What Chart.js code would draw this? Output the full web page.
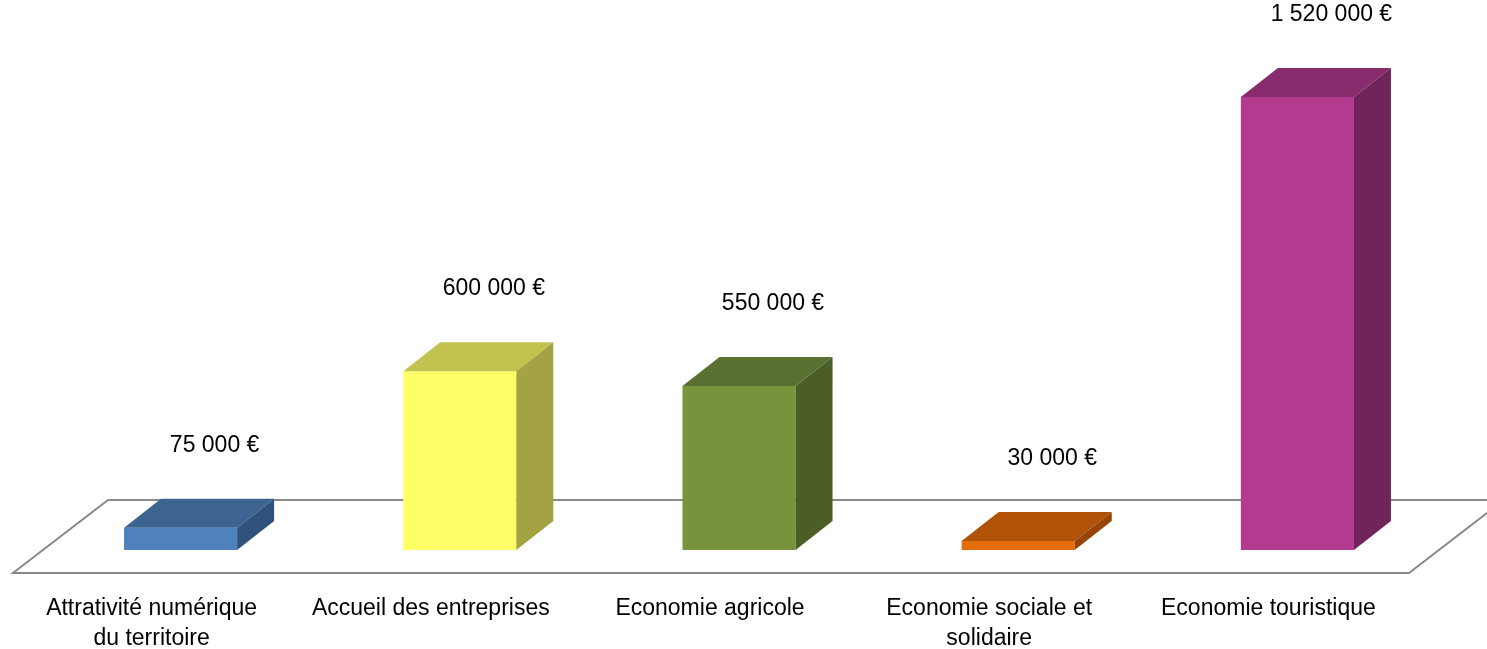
<!DOCTYPE html>
<html>
<head>
<meta charset="utf-8">
<script src="https://cdn.jsdelivr.net/npm/chart.js@4/dist/chart.umd.min.js"></script>
<style>
  body { margin: 0; background: #fff; }
  #wrap { width: 1487px; height: 649px; }
</style>
</head>
<body>
<div id="wrap"><canvas id="chart1"></canvas></div>
<script>
const categories = [
  ["Attrativité numérique", "du territoire"],
  "Accueil des entreprises",
  "Economie agricole",
  ["Economie sociale et", "solidaire"],
  "Economie touristique"
];
const montants = [75000, 600000, 550000, 30000, 1520000];
const valueLabels = ["75 000 €", "600 000 €", "550 000 €", "30 000 €", "1 520 000 €"];

// front / top / side shades of each bar
const frontColors = ["#4f81bd", "#ffff66", "#77933c", "#e46c0a", "#b33a8f"];
const topColors = ["#3d6391", "#c2c24e", "#5a7030", "#b05208", "#892c6d"];
const sideColors = ["#31527a", "#a3a343", "#4b5e28", "#964506", "#70245a"];

const FONT = "'Liberation Sans', Arial, sans-serif";
const DX = 37, DY = 29;

function poly(ctx, pts, fill) {
  ctx.beginPath();
  ctx.moveTo(pts[0][0], pts[0][1]);
  for (let i = 1; i < pts.length; i++) ctx.lineTo(pts[i][0], pts[i][1]);
  ctx.closePath();
  ctx.fillStyle = fill;
  ctx.fill();
}

const box3d = {
  id: "box3d",
  beforeDatasetsDraw(chart) {
    const { ctx, chartArea } = chart;
    const l = chartArea.left, r = chartArea.right, b = chartArea.bottom;
    // floor
    ctx.save();
    ctx.strokeStyle = "#898989";
    ctx.lineWidth = 2;
    ctx.beginPath();
    ctx.moveTo(l - 28, b + 23);
    ctx.lineTo(r - 28, b + 23);
    ctx.lineTo(r + 67, b - 50);
    ctx.lineTo(l + 67, b - 50);
    ctx.closePath();
    ctx.stroke();
    ctx.restore();
  },
  afterDatasetsDraw(chart) {
    const { ctx } = chart;
    const meta = chart.getDatasetMeta(0);
    ctx.save();
    meta.data.forEach((bar, i) => {
      const half = bar.width / 2;
      const x0 = bar.x - half, x1 = bar.x + half;
      const top = bar.y, bot = bar.base;
      poly(ctx, [[x0, top], [x1, top], [x1 + DX, top - DY], [x0 + DX, top - DY]], topColors[i]);
      poly(ctx, [[x1, top], [x1 + DX, top - DY], [x1 + DX, bot - DY], [x1, bot]], sideColors[i]);
      ctx.fillStyle = "#000";
      ctx.font = "23px " + FONT;
      ctx.textAlign = "center";
      ctx.textBaseline = "middle";
      ctx.fillText(valueLabels[i], bar.x + 34, top - 82);
    });
    ctx.restore();
  }
};

function renderChart() {
  const ctx = document.querySelector("#chart1").getContext("2d");
  new Chart(ctx, {
    type: "bar",
    data: {
      labels: categories,
      datasets: [{
        label: "Montant",
        data: montants,
        backgroundColor: frontColors,
        borderWidth: 0,
        barPercentage: 0.405,
        categoryPercentage: 1
      }]
    },
    options: {
      responsive: true,
      maintainAspectRatio: false,
      animation: false,
      layout: { padding: { left: 41, right: 50, top: 0, bottom: 0 } },
      plugins: { legend: { display: false }, tooltip: { enabled: false } },
      scales: {
        x: {
          grid: { display: false, drawTicks: false },
          border: { display: false },
          afterFit: (scale) => { scale.height = 99; },
          ticks: {
            color: "#000",
            padding: 43,
            labelOffset: -29,
            maxRotation: 0,
            autoSkip: false,
            font: { family: FONT, size: 23, lineHeight: 1.32 }
          }
        },
        y: {
          display: false,
          min: 0,
          max: 1845000
        }
      }
    },
    plugins: [box3d]
  });
}
renderChart();
</script>
</body>
</html>
